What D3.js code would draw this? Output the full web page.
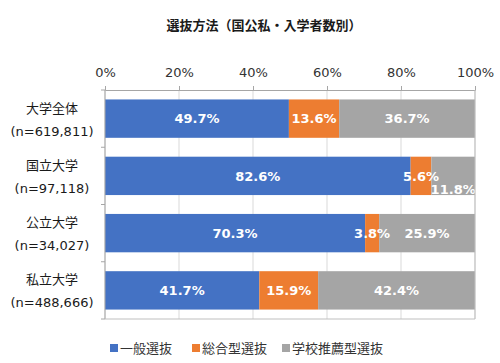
<!DOCTYPE html>
<html>
<head>
<meta charset="utf-8">
<script src="https://cdn.jsdelivr.net/npm/d3@7"></script>
<style>
  body { margin: 0; background: #fff; }
  svg { font-family: "DejaVu Sans", "Noto Sans CJK JP", sans-serif; }
</style>
</head>
<body>
<svg id="plotSvg"></svg>
<script>
var categories = ["大学全体", "国立大学", "公立大学", "私立大学"];
var counts = ["(n=619,811)", "(n=97,118)", "(n=34,027)", "(n=488,666)"];
var seriesNames = ["一般選抜", "総合型選抜", "学校推薦型選抜"];
var general = [49.7, 82.6, 70.3, 41.7];
var comprehensive = [13.6, 5.6, 3.8, 15.9];
var recommend = [36.7, 11.8, 25.9, 42.4];
var ticks = [0, 20, 40, 60, 80, 100];
var colors = ["#4472C4", "#ED7D31", "#A5A5A5"];

var width = 500, height = 363;
var svg = d3.select("#plotSvg").attr("width", width).attr("height", height);
var margin = { top: 90, right: 25, bottom: 44, left: 105 };
var w = width - margin.left - margin.right,
    h = height - margin.top - margin.bottom;

var rows = categories.map(function(c, i) {
  return { cat: c, n: counts[i], "一般選抜": general[i], "総合型選抜": comprehensive[i], "学校推薦型選抜": recommend[i] };
});

svg.append("text")
  .attr("x", 264).attr("y", 30)
  .attr("text-anchor", "middle")
  .attr("font-size", 13).attr("font-weight", "bold")
  .attr("fill", "#1a1a1a")
  .text("選抜方法（国公私・入学者数別）");

var g = svg.append("g").attr("transform", "translate(" + margin.left + "," + margin.top + ")");

var x = d3.scaleLinear().domain([0, 100]).range([0, w]);
var y = d3.scaleBand().domain(categories).range([0, h]).paddingInner(0.33).paddingOuter(0.165);

// gridlines
g.selectAll("line.grid").data(ticks).enter().append("line")
  .attr("class", "grid")
  .attr("x1", function(d) { return x(d); }).attr("x2", function(d) { return x(d); })
  .attr("y1", 0).attr("y2", h)
  .attr("stroke", "#d9d9d9").attr("stroke-width", 1);

var stack = d3.stack().keys(seriesNames);
var series = stack(rows);

var layer = g.selectAll("g.layer").data(series).enter().append("g")
  .attr("class", "layer")
  .attr("fill", function(d, i) { return colors[i]; });

layer.selectAll("rect").data(function(d) { return d; }).enter().append("rect")
  .attr("x", function(d) { return x(d[0]); })
  .attr("width", function(d) { return x(d[1]) - x(d[0]); })
  .attr("y", function(d) { return y(d.data.cat); })
  .attr("height", y.bandwidth());

// value labels
series.forEach(function(s) {
  s.forEach(function(d) {
    var v = d.data[s.key];
    var shift = (s.key === "学校推薦型選抜" && d.data.cat === "国立大学") ? 13 : 0;
    g.append("text")
      .attr("x", x((d[0] + d[1]) / 2))
      .attr("y", y(d.data.cat) + y.bandwidth() / 2 + shift)
      .attr("dy", "0.36em")
      .attr("text-anchor", "middle")
      .attr("font-size", 13).attr("font-weight", "bold")
      .attr("fill", "#fff")
      .text(v.toFixed(1) + "%");
  });
});

// top axis
var xAxis = d3.axisTop(x).tickValues(ticks).tickSize(4).tickFormat(function(d) { return d + "%"; });
var ax = g.append("g").call(xAxis);
ax.select(".domain").attr("stroke", "#a6a6a6");
ax.selectAll(".tick line").attr("stroke", "#a6a6a6");
ax.selectAll(".tick text").attr("font-size", 13).attr("fill", "#333")
  .attr("font-family", "DejaVu Sans, sans-serif").attr("y", -13);

// frame lines
g.append("line").attr("x1", 0).attr("x2", 0).attr("y1", 0).attr("y2", h)
  .attr("stroke", "#a6a6a6");
g.append("line").attr("x1", 0).attr("x2", w).attr("y1", h).attr("y2", h)
  .attr("stroke", "#bfbfbf");
g.append("line").attr("x1", w).attr("x2", w).attr("y1", 0).attr("y2", h)
  .attr("stroke", "#bfbfbf");

// left tick marks at band boundaries
var step = y.step();
d3.range(categories.length + 1).forEach(function(i) {
  var yy = Math.min(h, y(categories[0]) - y.paddingOuter() * step + i * step);
  g.append("line").attr("x1", -4).attr("x2", 0)
    .attr("y1", yy).attr("y2", yy)
    .attr("stroke", "#a6a6a6");
});

// category labels
categories.forEach(function(c, i) {
  var cy = y(c) + y.bandwidth() / 2;
  var t = svg.append("text")
    .attr("x", 52).attr("text-anchor", "middle")
    .attr("font-size", 13).attr("fill", "#1a1a1a");
  t.append("tspan").attr("x", 52).attr("y", margin.top + cy - 6).text(c);
  t.append("tspan").attr("x", 52).attr("y", margin.top + cy + 17).text(counts[i]);
});

// legend
var legendX = [110, 192, 282];
var legend = svg.append("g").selectAll("g").data(seriesNames).enter().append("g")
  .attr("transform", function(d, i) { return "translate(" + legendX[i] + ",348)"; });
legend.append("rect").attr("x", 0).attr("y", -4).attr("width", 8).attr("height", 8)
  .attr("fill", function(d, i) { return colors[i]; });
legend.append("text").attr("x", 10).attr("y", 0).attr("dy", "0.36em")
  .attr("font-size", 13).attr("fill", "#333")
  .text(function(d) { return d; });
</script>
</body>
</html>
